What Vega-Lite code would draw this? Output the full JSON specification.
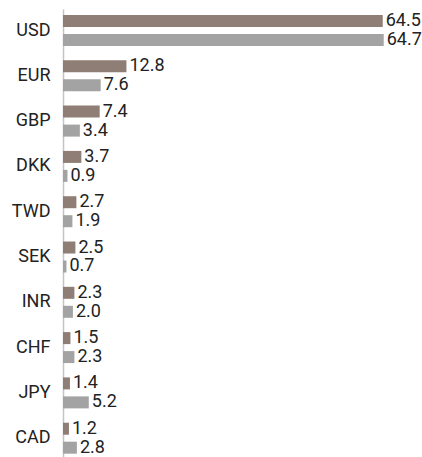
{
  "$schema": "https://vega.github.io/schema/vega-lite/v6.json",
  "width": 347,
  "height": 448,
  "autosize": {"type": "none"},
  "padding": {"left": 63, "top": 9, "right": 12, "bottom": 0},
  "config": {"view": {"stroke": null}, "font": "Roboto"},
  "data": {
    "values": [
      {"currency": "USD", "series": "Series 1", "value": 64.5},
      {"currency": "USD", "series": "Series 2", "value": 64.7},
      {"currency": "EUR", "series": "Series 1", "value": 12.8},
      {"currency": "EUR", "series": "Series 2", "value": 7.6},
      {"currency": "GBP", "series": "Series 1", "value": 7.4},
      {"currency": "GBP", "series": "Series 2", "value": 3.4},
      {"currency": "DKK", "series": "Series 1", "value": 3.7},
      {"currency": "DKK", "series": "Series 2", "value": 0.9},
      {"currency": "TWD", "series": "Series 1", "value": 2.7},
      {"currency": "TWD", "series": "Series 2", "value": 1.9},
      {"currency": "SEK", "series": "Series 1", "value": 2.5},
      {"currency": "SEK", "series": "Series 2", "value": 0.7},
      {"currency": "INR", "series": "Series 1", "value": 2.3},
      {"currency": "INR", "series": "Series 2", "value": 2.0},
      {"currency": "CHF", "series": "Series 1", "value": 1.5},
      {"currency": "CHF", "series": "Series 2", "value": 2.3},
      {"currency": "JPY", "series": "Series 1", "value": 1.4},
      {"currency": "JPY", "series": "Series 2", "value": 5.2},
      {"currency": "CAD", "series": "Series 1", "value": 1.2},
      {"currency": "CAD", "series": "Series 2", "value": 2.8}
    ]
  },
  "encoding": {
    "y": {
      "field": "currency",
      "type": "nominal",
      "sort": ["USD", "EUR", "GBP", "DKK", "TWD", "SEK", "INR", "CHF", "JPY", "CAD"],
      "title": null,
      "scale": {"paddingInner": 0.316, "paddingOuter": 0.103, "align": 0.645},
      "axis": {
        "domainColor": "#C4C4C4",
        "domainWidth": 1.5,
        "ticks": false,
        "labelPadding": 13,
        "labelFontSize": 18,
        "labelFontWeight": "normal",
        "labelColor": "#222222",
        "labelFont": "Roboto"
      }
    },
    "yOffset": {
      "field": "series",
      "type": "nominal",
      "scale": {"paddingInner": 0.368, "paddingOuter": 0}
    },
    "x": {
      "field": "value",
      "type": "quantitative",
      "scale": {"domain": [0, 70]},
      "axis": null
    }
  },
  "layer": [
    {
      "mark": {"type": "bar"},
      "encoding": {
        "color": {
          "field": "series",
          "type": "nominal",
          "scale": {"range": ["#8E7E75", "#A3A3A3"]},
          "legend": null
        }
      }
    },
    {
      "mark": {
        "type": "text",
        "align": "left",
        "baseline": "middle",
        "dx": 3,
        "fontSize": 18,
        "color": "#222222",
        "font": "Roboto"
      },
      "encoding": {
        "text": {"field": "value", "type": "quantitative", "format": ".1f"}
      }
    }
  ]
}
